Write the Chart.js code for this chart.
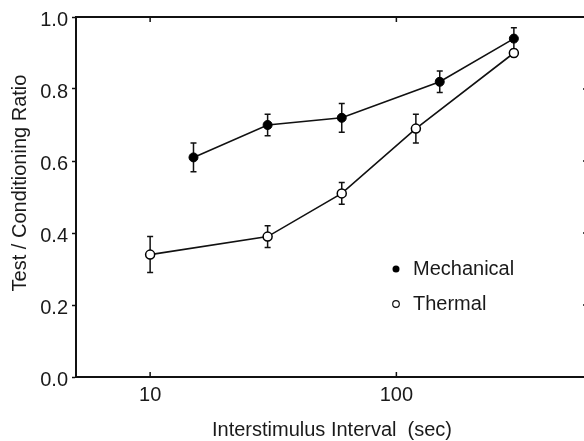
<!DOCTYPE html>
<html>
<head>
<meta charset="utf-8">
<script src="https://cdn.jsdelivr.net/npm/chart.js@4/dist/chart.umd.min.js"></script>
<style>
    html, body { margin: 0; padding: 0; background: #fff; overflow: hidden; }
    #wrap { width: 600px; height: 441px; }
</style>
</head>
<body>
<div id="wrap"><canvas id="grafico" width="600" height="441"></canvas></div>
<script>
// ---------------------
// Dados
// ---------------------
const mecX = [15, 30, 60, 150, 300];
const mecY = [0.61, 0.70, 0.72, 0.82, 0.94];
const mecErrAlto = [0.65, 0.73, 0.76, 0.85, 0.97];
const mecErrBaixo = [0.57, 0.67, 0.68, 0.79, 0.91];

const terX = [10, 30, 60, 120, 300];
const terY = [0.34, 0.39, 0.51, 0.69, 0.90];
const terErrAlto = [0.39, 0.42, 0.54, 0.73, 0.91];
const terErrBaixo = [0.29, 0.36, 0.48, 0.65, 0.89];

const xTicks = [10, 100];
const yTicks = [0, 0.2, 0.4, 0.6, 0.8, 1.0];

const FONTE = "'Liberation Sans', Arial, sans-serif";
const COR_TEXTO = '#1a1a1a';

// ---------------------
// Plugins
// ---------------------
const barrasErro = {
    id: 'barrasErro',
    beforeDatasetsDraw(chart) {
        const { ctx, scales: { x, y } } = chart;
        const series = [
            [mecX, mecErrAlto, mecErrBaixo],
            [terX, terErrAlto, terErrBaixo]
        ];
        ctx.save();
        ctx.strokeStyle = '#111';
        ctx.lineWidth = 1.5;
        series.forEach(([xs, alto, baixo]) => {
            xs.forEach((v, i) => {
                const px = x.getPixelForValue(v);
                const y1 = y.getPixelForValue(alto[i]);
                const y2 = y.getPixelForValue(baixo[i]);
                ctx.beginPath();
                ctx.moveTo(px, y1); ctx.lineTo(px, y2);
                ctx.moveTo(px - 3, y1); ctx.lineTo(px + 3, y1);
                ctx.moveTo(px - 3, y2); ctx.lineTo(px + 3, y2);
                ctx.stroke();
            });
        });
        ctx.restore();
    }
};

const moldura = {
    id: 'moldura',
    afterDraw(chart) {
        const { ctx, chartArea: a, scales: { x, y } } = chart;
        ctx.save();
        ctx.strokeStyle = '#111';
        ctx.lineWidth = 2;
        ctx.beginPath();
        ctx.moveTo(a.left, a.top); ctx.lineTo(a.right, a.top);
        ctx.moveTo(a.right, a.top); ctx.lineTo(a.right, a.bottom);
        ctx.stroke();

        // ticks para dentro
        ctx.lineWidth = 1.5;
        ctx.beginPath();
        xTicks.forEach(v => {
            const px = x.getPixelForValue(v);
            ctx.moveTo(px, a.bottom); ctx.lineTo(px, a.bottom - 5);
            ctx.moveTo(px, a.top); ctx.lineTo(px, a.top + 5);
        });
        yTicks.forEach(v => {
            const py = y.getPixelForValue(v);
            ctx.moveTo(a.right, py); ctx.lineTo(a.right - 5, py);
        });
        ctx.stroke();

        // título do eixo y
        ctx.font = `20px ${FONTE}`;
        ctx.fillStyle = COR_TEXTO;
        ctx.textAlign = 'center';
        ctx.textBaseline = 'middle';
        ctx.save();
        ctx.translate(20, 183);
        ctx.rotate(-Math.PI / 2);
        ctx.fillText('Test / Conditioning Ratio', 0, 0);
        ctx.restore();

        // legenda
        ctx.textAlign = 'left';
        ctx.fillText('Mechanical', 413, 269);
        ctx.fillText('Thermal', 413, 304);

        ctx.fillStyle = '#000';
        ctx.beginPath();
        ctx.arc(396, 269, 3.5, 0, Math.PI * 2);
        ctx.fill();

        ctx.fillStyle = '#fff';
        ctx.lineWidth = 1.2;
        ctx.beginPath();
        ctx.arc(396, 304, 3.3, 0, Math.PI * 2);
        ctx.fill();
        ctx.stroke();
        ctx.restore();
    }
};

// ---------------------
// Gráfico
// ---------------------
const ctx = document.getElementById('grafico').getContext('2d');

new Chart(ctx, {
    type: 'line',
    data: {
        datasets: [
            {
                label: 'Mechanical',
                data: mecX.map((v, i) => ({ x: v, y: mecY[i] })),
                borderColor: '#111',
                borderWidth: 1.6,
                pointRadius: 4.5,
                pointBackgroundColor: '#000',
                pointBorderColor: '#000',
                pointBorderWidth: 1,
                tension: 0
            },
            {
                label: 'Thermal',
                data: terX.map((v, i) => ({ x: v, y: terY[i] })),
                borderColor: '#111',
                borderWidth: 1.6,
                pointRadius: 4.5,
                pointBackgroundColor: '#fff',
                pointBorderColor: '#000',
                pointBorderWidth: 1.5,
                tension: 0
            }
        ]
    },
    options: {
        responsive: false,
        animation: false,
        layout: { padding: { top: 17, right: 12, left: 0, bottom: 0 } },
        plugins: {
            legend: { display: false },
            tooltip: { enabled: false }
        },
        scales: {
            x: {
                type: 'logarithmic',
                min: 5,
                max: 600,
                afterBuildTicks: (scale) => {
                    scale.ticks = xTicks.map(v => ({ value: v }));
                },
                afterFit: (scale) => { scale.height = 64; },
                border: { color: '#111', width: 2 },
                grid: { display: false, drawTicks: false },
                ticks: {
                    padding: 6,
                    color: COR_TEXTO,
                    font: { family: FONTE, size: 20 },
                    callback: (v) => String(v),
                    maxRotation: 0,
                    autoSkip: false
                },
                title: {
                    display: true,
                    text: 'Interstimulus Interval  (sec)',
                    color: COR_TEXTO,
                    font: { family: FONTE, size: 20 },
                    padding: { top: 0, bottom: -1 }
                }
            },
            y: {
                min: 0,
                max: 1,
                afterBuildTicks: (scale) => {
                    scale.ticks = yTicks.map(v => ({ value: v }));
                },
                afterFit: (scale) => { scale.width = 76; },
                border: { color: '#111', width: 2 },
                grid: { drawOnChartArea: false, tickLength: 4, color: '#111', tickWidth: 1.5 },
                ticks: {
                    padding: 4,
                    labelOffset: 3,
                    color: COR_TEXTO,
                    font: { family: FONTE, size: 20 },
                    callback: (v) => v.toFixed(1)
                }
            }
        }
    },
    plugins: [barrasErro, moldura]
});
</script>
</body>
</html>
